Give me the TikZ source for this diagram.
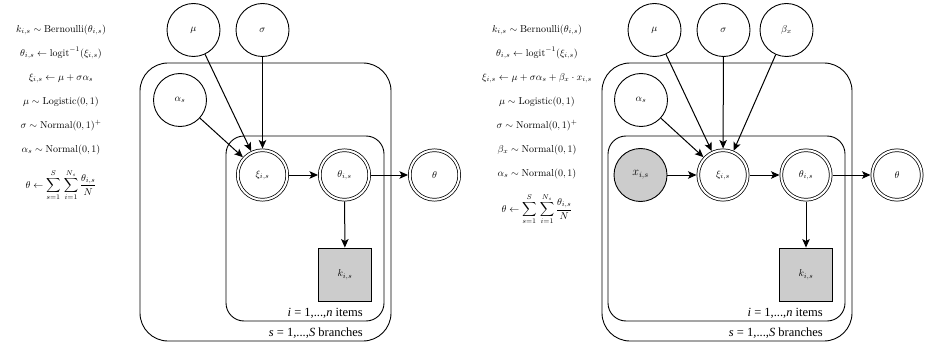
\documentclass[tikz,border=0pt]{standalone}
\usepackage{amsmath,amssymb}
\usepackage{fontspec}
\newfontfamily\platefont{Liberation Serif}
\usetikzlibrary{arrows.meta,positioning}

\begin{document}
\begin{tikzpicture}[x=1pt, y=-1pt,
  latent/.style={circle, draw, line width=0.9pt, minimum size=53pt, inner sep=0pt},
  derived/.style={circle, draw, double, double distance=2pt, line width=0.75pt, minimum size=49.5pt, inner sep=0pt, outer sep=1.75pt},
  observed/.style={latent, fill=gray!40},
  obsbox/.style={rectangle, draw, line width=0.9pt, fill=gray!40, minimum size=53pt, inner sep=0pt},
  plate/.style={draw, line width=0.9pt},
  platelabel/.style={anchor=base east, inner sep=0pt, font=\platefont\fontsize{12.5}{15}\selectfont},
  model/.style={anchor=north, inner sep=0pt, align=center, font=\fontsize{10}{24}\selectfont},
  edge/.style={-{Stealth[length=8.5pt, width=7.5pt, inset=2pt]}, line width=1pt}]
\useasboundingbox (0,0) rectangle (929,342);

% model without covariate
\node[model] (eqA) at (61,24.5) {$k_{i,s} \sim \mathrm{Bernoulli}(\theta_{i,s})$\\
  $\theta_{i,s} \leftarrow \mathrm{logit}^{-1}(\xi_{i,s})$\\
  $\xi_{i,s} \leftarrow \mu + \sigma\alpha_s$\\
  $\mu \sim \mathrm{Logistic}(0,1)$\\
  $\sigma \sim \mathrm{Normal}(0,1)^{+}$\\
  $\alpha_s \sim \mathrm{Normal}(0,1)$\\[12pt]
  $\displaystyle\theta \leftarrow \sum_{s=1}^{S}\,\sum_{i=1}^{N_s}\frac{\theta_{i,s}}{N}$};

\draw[plate, rounded corners=28pt] (140,63) rectangle (391,341);
\draw[plate, rounded corners=18pt] (226,136) rectangle (384,321);

\node[latent] (mu) at (193.5,30) {$\mu$};
\node[latent] (sigma) at (262.5,30) {$\sigma$};
\node[latent] (alpha) at (180,100) {$\alpha_s$};
\node[derived] (xi) at (262.5,175) {$\xi_{i,s}$};
\node[derived] (thetais) at (344.5,175) {$\theta_{i,s}$};
\node[derived] (theta) at (434.5,175) {$\theta$};
\node[obsbox] (k) at (345,274.5) {$k_{i,s}$};
\node[platelabel] (itemsA) at (363,316) {\textit{i} = 1,...,\textit{n} items};
\node[platelabel] (branchesA) at (363,336) {\textit{s} = 1,...,\textit{S} branches};

\draw[edge] (mu) -- (xi);
\draw[edge] (sigma) -- (xi);
\draw[edge] (alpha) -- (xi);
\draw[edge] (xi) -- (thetais);
\draw[edge] (thetais) -- (theta);
\draw[edge] (thetais) -- (k);

% model with covariate x
\node[model] (eqB) at (537,24.5) {$k_{i,s} \sim \mathrm{Bernoulli}(\theta_{i,s})$\\
  $\theta_{i,s} \leftarrow \mathrm{logit}^{-1}(\xi_{i,s})$\\
  $\xi_{i,s} \leftarrow \mu + \sigma\alpha_s + \beta_x \cdot x_{i,s}$\\
  $\mu \sim \mathrm{Logistic}(0,1)$\\
  $\sigma \sim \mathrm{Normal}(0,1)^{+}$\\
  $\beta_x \sim \mathrm{Normal}(0,1)$\\
  $\alpha_s \sim \mathrm{Normal}(0,1)$\\[12pt]
  $\displaystyle\theta \leftarrow \sum_{s=1}^{S}\,\sum_{i=1}^{N_s}\frac{\theta_{i,s}}{N}$};

\draw[plate, rounded corners=28pt] (602,63) rectangle (852,341);
\draw[plate, rounded corners=18pt] (608,136) rectangle (845,321);

\node[latent] (muB) at (654.5,30) {$\mu$};
\node[latent] (sigmaB) at (723.5,30) {$\sigma$};
\node[latent] (betaB) at (786.5,30) {$\beta_x$};
\node[latent] (alphaB) at (641,100) {$\alpha_s$};
\node[observed, font=\fontsize{11.5}{14}\selectfont] (xB) at (640.5,175) {$x_{i,s}$};
\node[derived] (xiB) at (723,175) {$\xi_{i,s}$};
\node[derived] (thetaisB) at (806,175) {$\theta_{i,s}$};
\node[derived] (thetaB) at (897,175) {$\theta$};
\node[obsbox] (kB) at (806,274.5) {$k_{i,s}$};
\node[platelabel] (itemsB) at (823,316) {\textit{i} = 1,...,\textit{n} items};
\node[platelabel] (branchesB) at (823,336) {\textit{s} = 1,...,\textit{S} branches};

\draw[edge] (muB) -- (xiB);
\draw[edge] (sigmaB) -- (xiB);
\draw[edge] (betaB) -- (xiB);
\draw[edge] (alphaB) -- (xiB);
\draw[edge] (xB) -- (xiB);
\draw[edge] (xiB) -- (thetaisB);
\draw[edge] (thetaisB) -- (thetaB);
\draw[edge] (thetaisB) -- (kB);
\end{tikzpicture}
\end{document}
